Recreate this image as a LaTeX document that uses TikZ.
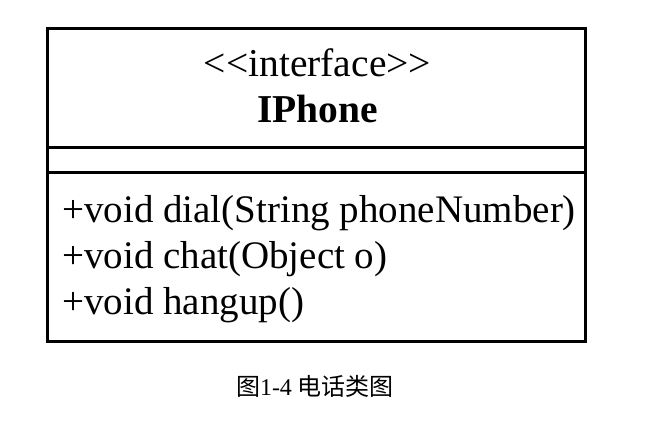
\documentclass[tikz,border=0pt]{standalone}
\usepackage{fontspec}
\setmainfont{Liberation Serif}
\newfontfamily\cjk{Noto Sans CJK SC}
\begin{document}
\begin{tikzpicture}[x=1pt,y=-1pt,
  boxline/.style={draw=black,line width=3pt},
  uml/.style={inner sep=0pt,font=\fontsize{39}{44}\selectfont},
  captext/.style={inner sep=0pt,font=\fontsize{24}{27}\selectfont}]
\useasboundingbox[fill=white] (0,0) rectangle (672,433);
\draw[boxline] (47,28.5) rectangle (585,341.5);
\coordinate (l1) at (47,148);
\coordinate (r1) at (585,148);
\coordinate (l2) at (47,172);
\coordinate (r2) at (585,172);
\draw[boxline] (l1) -- (r1);
\draw[boxline] (l2) -- (r2);
\node[uml,anchor=base,font=\fontsize{39.5}{44}\selectfont] (st) at (317.5,77) {<{}<interface>{}>};
\node[uml,anchor=base,font=\fontsize{39.5}{44}\selectfont\bfseries] (nm) at (317.5,123) {IPhone};
\node[uml,anchor=base west] (m1) at (62,222) {+void dial(String phoneNumber)};
\node[uml,anchor=base west] (m2) at (62,268) {+void chat(Object o)};
\node[uml,anchor=base west] (m3) at (62,314) {+void hangup()};
\node[captext,anchor=base] (cp) at (315,395) {{\cjk 图}1-4 {\cjk 电话类图}};
\end{tikzpicture}
\end{document}
